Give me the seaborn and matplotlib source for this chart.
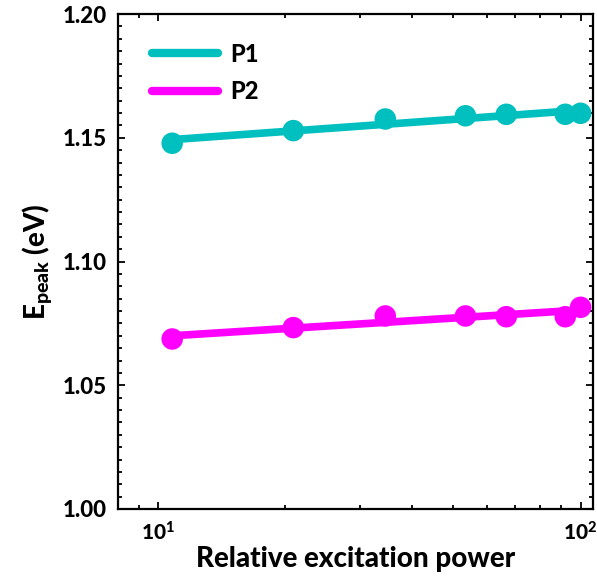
import numpy as np
import pandas as pd
import matplotlib
matplotlib.use("Agg")
import matplotlib.pyplot as plt
from matplotlib.lines import Line2D
from matplotlib.ticker import LogLocator, MultipleLocator, FixedLocator, NullFormatter
import seaborn as sns

# Measured peak energies vs relative excitation power
power = [10.8, 20.9, 34.5, 53.4, 66.7, 92.0, 100.0]
e_p1 = [1.1478, 1.1529, 1.1576, 1.1589, 1.1595, 1.1595, 1.1599]
e_p2 = [1.0687, 1.0733, 1.0780, 1.0780, 1.0777, 1.0777, 1.0815]
series_names = ["P1", "P2"]
series_colors = ["#00BFBF", "#FF00FF"]
y_ticks = [1.00, 1.05, 1.10, 1.15, 1.20]
x_ticks = [10, 100]
x_tick_labels = [r"$\mathbf{10^{1}}$", r"$\mathbf{10^{2}}$"]

sns.set_style("ticks")
plt.rcParams["font.family"] = ["Lato", "DejaVu Sans"]
plt.rcParams["font.weight"] = "black"
plt.rcParams["text.color"] = "black"
plt.rcParams["axes.labelcolor"] = "black"
plt.rcParams["xtick.color"] = "black"
plt.rcParams["ytick.color"] = "black"
plt.rcParams["mathtext.fontset"] = "custom"
plt.rcParams["mathtext.rm"] = "Lato:black"
plt.rcParams["mathtext.bf"] = "Lato:black"
plt.rcParams["mathtext.it"] = "Lato:black"

df = pd.DataFrame({
    "power": power * 2,
    "energy": e_p1 + e_p2,
    "peak": ["P1"] * len(power) + ["P2"] * len(power),
})

# Linear fit of energy against log10(power) for each peak
fit_rows = []
for name, vals in zip(series_names, [e_p1, e_p2]):
    coef = np.polyfit(np.log10(power), vals, 1)
    xs = np.array([power[0], power[-1]])
    fit_rows.append(pd.DataFrame({"power": xs,
                                  "energy": np.polyval(coef, np.log10(xs)),
                                  "peak": name}))
fit = pd.concat(fit_rows, ignore_index=True)

fig = plt.figure(figsize=(5.97, 5.86), dpi=100)
ax = fig.add_axes([0.1977, 0.1314, 0.7956, 0.8446])
palette = dict(zip(series_names, series_colors))

sns.scatterplot(data=df, x="power", y="energy", hue="peak", palette=palette,
                s=240, edgecolor="none", legend=False, ax=ax, zorder=3)
sns.lineplot(data=fit, x="power", y="energy", hue="peak", palette=palette,
             linewidth=5.5, legend=False, ax=ax, zorder=2)

ax.set_xscale("log")
ax.set_xlim(8.04, 107)
ax.set_ylim(1.00, 1.20)

ax.xaxis.set_major_locator(FixedLocator(x_ticks))
ax.set_xticklabels(x_tick_labels)
ax.xaxis.set_minor_locator(LogLocator(base=10, subs=np.arange(2, 10) * 1.0, numticks=20))
ax.xaxis.set_minor_formatter(NullFormatter())
ax.set_yticks(y_ticks)
ax.set_yticklabels([f"{v:.2f}" for v in y_ticks])
ax.yaxis.set_minor_locator(MultipleLocator(0.005))

ax.tick_params(which="both", direction="in", top=True, right=True, color="black",
               width=1.3)
ax.tick_params(which="major", length=5, labelsize=16, pad=8)
ax.tick_params(axis="x", which="major", labelsize=15)
ax.tick_params(which="minor", length=3)
for sp in ax.spines.values():
    sp.set_linewidth(1.6)
    sp.set_color("black")

ax.set_xlabel("Relative excitation power", fontsize=20, fontweight="black", labelpad=2)
ax.set_ylabel(r"$\mathbf{E_{peak}}$ (eV)", fontsize=20, fontweight="black", labelpad=6)

handles = [Line2D([0], [0], color=c, lw=6) for c in series_colors]
leg = ax.legend(handles, series_names, loc="upper left", frameon=False,
                bbox_to_anchor=(0.027, 0.985), handlelength=2.8, handletextpad=0.5,
                labelspacing=0.6, prop={"size": 17, "weight": "black"})

fig.savefig("out.png", dpi=100)
